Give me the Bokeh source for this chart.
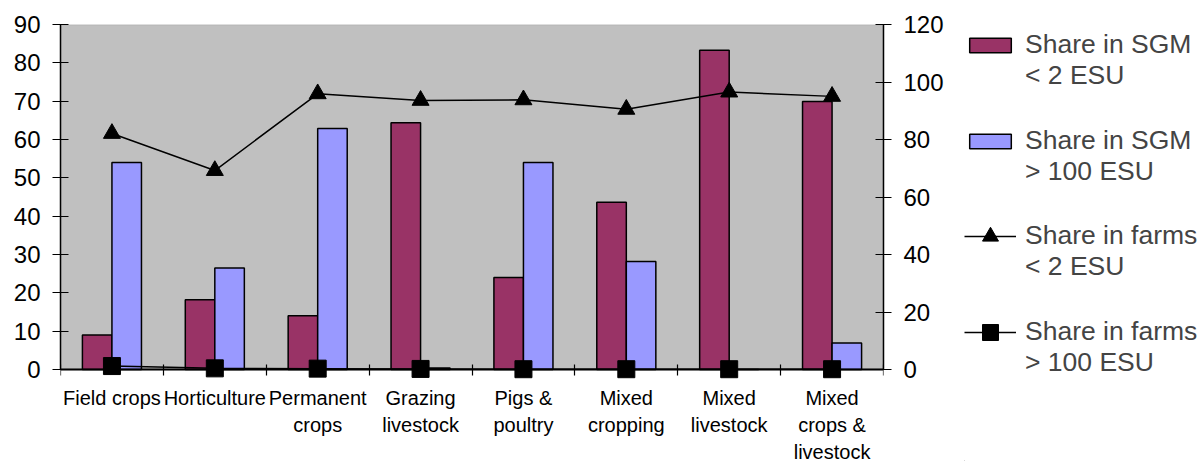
from bokeh.plotting import figure
from bokeh.layouts import row
from bokeh.models import (Range1d, LinearAxis, FixedTicker, Legend, LegendItem,
                          BoxAnnotation)
from bokeh.embed import file_html
from bokeh.resources import INLINE
import numpy as np

categories = ["Field crops", "Horticulture", "Permanent\ncrops", "Grazing\nlivestock",
              "Pigs &\npoultry", "Mixed\ncropping", "Mixed\nlivestock",
              "Mixed\ncrops &\nlivestock"]
sgm_small = [9.0, 18.2, 14.0, 64.4, 24.0, 43.6, 83.3, 69.9]
sgm_large = [54.0, 26.5, 62.9, 0.4, 54.0, 28.2, 0.0, 6.9]
farms_small = [82.1, 69.2, 95.9, 93.6, 93.8, 90.5, 96.5, 95.0]
farms_large = [1.2, 0.4, 0.3, 0.2, 0.1, 0.1, 0.1, 0.1]
series_labels = ["Share in SGM\n< 2 ESU", "Share in SGM\n> 100 ESU",
                 "Share in farms\n< 2 ESU", "Share in farms\n> 100 ESU"]
left_ticks = list(range(0, 100, 10))
right_ticks = list(range(0, 140, 20))

FONT = "Liberation Sans"
MAROON, LILAC, GREY = "#993366", "#9999FF", "#C0C0C0"
n = len(categories)
centers = np.arange(n) + 0.5
bar_w = 0.287

# The frame runs down to the bottom edge so the category labels (drawn by an
# axis pinned at zero) and the markers sitting on zero are not clipped.
left_max, right_max = 90, 120
below = 92 / 345  # part of the value span kept under zero
p = figure(width=950, height=461, output_backend="svg", toolbar_location=None,
           title=None, x_range=Range1d(0, n),
           y_range=Range1d(-left_max * below, left_max),
           min_border_left=60, min_border_right=67, min_border_top=24,
           min_border_bottom=0)
p.extra_y_ranges = {"right": Range1d(-right_max * below, right_max)}
p.background_fill_color = "white"
p.border_fill_color = "white"
p.outline_line_color = None
p.xgrid.visible = False
p.ygrid.visible = False

# grey plot area from zero upwards
p.add_layout(BoxAnnotation(bottom=0, fill_color=GREY, fill_alpha=1,
                           line_color="#808080", line_width=1.5, level="underlay"))

p.vbar(x=centers - bar_w / 2, top=sgm_small, width=bar_w,
       fill_color=MAROON, line_color="black", line_width=1.5)
p.vbar(x=centers + bar_w / 2, top=sgm_large, width=bar_w,
       fill_color=LILAC, line_color="black", line_width=1.5)

p.line(centers, farms_small, y_range_name="right", line_color="black", line_width=1.5)
p.scatter(centers, farms_small, y_range_name="right", marker="triangle",
          size=17, fill_color="black", line_color="black")
p.line(centers, farms_large, y_range_name="right", line_color="black", line_width=1.5)
p.scatter(centers, farms_large, y_range_name="right", marker="square",
          size=17, fill_color="black", line_color="black")

# bottom axis sits on zero: labels at category centres, ticks at category boundaries
xa = p.xaxis[0]
xa.fixed_location = 0
xa.ticker = FixedTicker(ticks=list(centers), minor_ticks=list(range(n + 1)))
xa.major_label_overrides = {float(c): lab for c, lab in zip(centers, categories)}
xa.major_tick_in = 0
xa.major_tick_out = 0
xa.minor_tick_in = 5
xa.minor_tick_out = 6
xa.minor_tick_line_color = "black"
xa.minor_tick_line_width = 1.2
xa.axis_line_color = "black"
xa.axis_line_width = 2
xa.major_label_text_font = FONT
xa.major_label_text_font_size = "20px"
xa.major_label_text_color = "black"
xa.major_label_text_line_height = 1.23
xa.major_label_standoff = 11

ya = p.yaxis[0]
ya.bounds = (0, left_max)
ya.ticker = FixedTicker(ticks=left_ticks)
ya.minor_tick_line_color = None
ya.major_tick_in = 8
ya.major_tick_out = 8
ya.major_tick_line_color = "black"
ya.major_tick_line_width = 1.2
ya.axis_line_color = "black"
ya.axis_line_width = 1.5
ya.major_label_text_font = FONT
ya.major_label_text_font_size = "24px"
ya.major_label_text_color = "black"
ya.major_label_standoff = 12

ra = LinearAxis(y_range_name="right", ticker=FixedTicker(ticks=right_ticks),
                bounds=(0, right_max))
ra.minor_tick_line_color = None
ra.major_tick_in = 8
ra.major_tick_out = 8
ra.major_tick_line_color = "black"
ra.major_tick_line_width = 1.2
ra.axis_line_color = "black"
ra.axis_line_width = 1.5
ra.major_label_text_font = FONT
ra.major_label_text_font_size = "24px"
ra.major_label_text_color = "black"
ra.major_label_standoff = 12
p.add_layout(ra, "right")

# legend panel beside the chart; its key glyphs lie outside the visible ranges
lg = figure(width=249, height=461, output_backend="svg", toolbar_location=None,
            title=None, x_axis_location=None, y_axis_location=None,
            x_range=Range1d(0, 1), y_range=Range1d(0, 1),
            min_border_left=14, min_border_right=0, min_border_top=0,
            min_border_bottom=0)
lg.outline_line_color = None
lg.xgrid.visible = False
lg.ygrid.visible = False
k1 = lg.vbar(x=[-5], top=[-5], width=1, fill_color=MAROON, line_color="black", line_width=1.5)
k2 = lg.vbar(x=[-5], top=[-5], width=1, fill_color=LILAC, line_color="black", line_width=1.5)
k3 = lg.line([-5, -4], [-5, -4], line_color="black", line_width=1.5)
k4 = lg.scatter([-5], [-5], marker="triangle", size=17, fill_color="black", line_color="black")
k5 = lg.line([-5, -4], [-5, -4], line_color="black", line_width=1.5)
k6 = lg.scatter([-5], [-5], marker="square", size=17, fill_color="black", line_color="black")

# each label starts with an empty line so the key lines up with its first text line
legend_style = dict(padding=0, margin=0, spacing=3, glyph_width=52, label_standoff=9,
                    label_text_font=FONT, label_text_font_size="26.5px",
                    label_text_line_height=1.3, border_line_color=None,
                    background_fill_alpha=0)
bar_legend = Legend(items=[
    LegendItem(label="\n" + series_labels[0], renderers=[k1]),
    LegendItem(label="\n" + series_labels[1], renderers=[k2]),
], location=(0, 274), glyph_height=18, **legend_style)
line_legend = Legend(items=[
    LegendItem(label="\n" + series_labels[2], renderers=[k3, k4]),
    LegendItem(label="\n" + series_labels[3], renderers=[k5, k6]),
], location=(0, 83), glyph_height=40, **legend_style)
lg.add_layout(bar_legend, "center")
lg.add_layout(line_legend, "center")

open("out.html", "w").write(file_html(row(p, lg), INLINE))
